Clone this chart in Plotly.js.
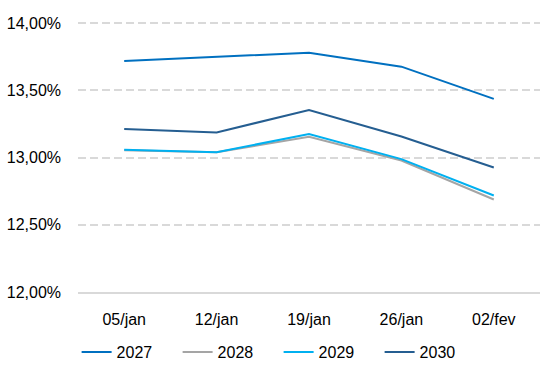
<!DOCTYPE html>
<html>
<head>
<meta charset="utf-8">
<script src="https://cdn.plot.ly/plotly-3.0.1.min.js"></script>
<style>html,body{margin:0;padding:0;background:#fff;}#chart{width:543px;height:383px;}</style>
</head>
<body>
<div id="chart"></div>
<script>
const categories = ["05/jan", "12/jan", "19/jan", "26/jan", "02/fev"];
const seriesNames = ["2027", "2028", "2029", "2030"];
const s2027 = [13.718, 13.750, 13.780, 13.676, 13.436];
const s2028 = [13.055, 13.040, 13.154, 12.978, 12.688];
const s2029 = [13.057, 13.040, 13.174, 12.988, 12.718];
const s2030 = [13.213, 13.186, 13.354, 13.156, 12.926];
const yTicks = [12, 12.5, 13, 13.5, 14];
const yTickText = ["12,00%", "12,50%", "13,00%", "13,50%", "14,00%"];

const colors = ["#0070C0", "#A5A5A5", "#00B0F0", "#255E91"];
const values = [s2027, s2028, s2029, s2030];

const traces = seriesNames.map((n, i) => ({
  type: "scatter", mode: "lines", name: n,
  x: categories, y: values[i],
  line: {color: colors[i], width: 2},
  hoverinfo: "skip"
}));

const font = {family: "Liberation Sans, Arial, sans-serif", size: 16, color: "#000"};

const layout = {
  width: 543, height: 383,
  margin: {l: 78, r: 3, t: 22, b: 91},
  paper_bgcolor: "#fff", plot_bgcolor: "rgba(0,0,0,0)",
  separators: ", ",
  font: font,
  showlegend: true,
  legend: {
    orientation: "h", x: -0.003, xanchor: "left", y: -0.223, yanchor: "middle",
    font: font, entrywidth: 56, entrywidthmode: "pixels",
    bgcolor: "rgba(0,0,0,0)",
    traceorder: "normal", itemclick: false
  },
  xaxis: {
    type: "category", range: [-0.5, 4.5],
    showgrid: false, zeroline: false,
    showline: true, linecolor: "#D9D9D9", linewidth: 2,
    ticks: "", tickfont: font, ticklabelstandoff: 12
  },
  yaxis: {
    range: [12, 14.008], tickvals: yTicks, ticktext: yTickText,
    showgrid: true, gridcolor: "#D9D9D9", gridwidth: 2, griddash: "8px,4px",
    zeroline: false, showline: false, ticks: "",
    tickfont: font, ticklabelstandoff: 16
  }
};

Plotly.newPlot("chart", traces, layout, {displayModeBar: false, staticPlot: true});
</script>
</body>
</html>
